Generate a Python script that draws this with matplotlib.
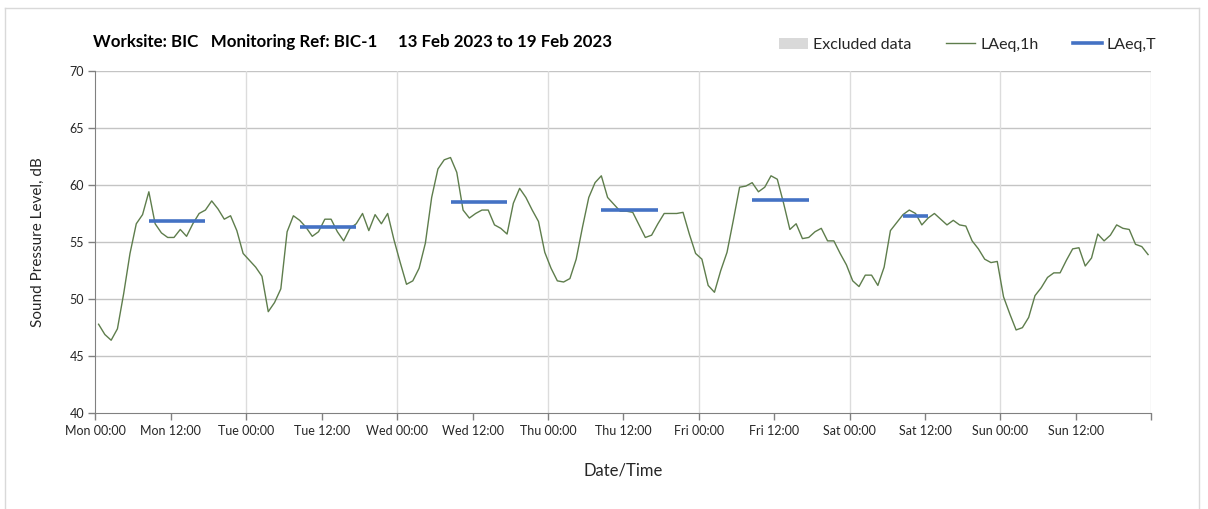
import numpy as np
import matplotlib
matplotlib.use('Agg')
import matplotlib.pyplot as plt
from matplotlib.patches import Patch
from matplotlib.lines import Line2D

plt.rcParams['font.family'] = ['Lato', 'DejaVu Sans']

# hourly LAeq,1h values (dB), Mon 00:00 .. Sun 23:00
mon = [47.8, 46.9, 46.4, 47.4, 50.5, 54.0, 56.6, 57.4, 59.4, 56.6, 55.8, 55.4,
       55.4, 56.1, 55.5, 56.6, 57.5, 57.8, 58.6, 57.9, 57.0, 57.3, 56.0, 54.0]
tue = [53.4, 52.8, 52.0, 48.9, 49.7, 50.9, 55.9, 57.3, 56.9, 56.3, 55.5, 55.9,
       57.0, 57.0, 55.9, 55.1, 56.2, 56.6, 57.5, 56.0, 57.4, 56.6, 57.5, 55.2]
wed = [53.2, 51.3, 51.6, 52.7, 54.9, 58.9, 61.4, 62.2, 62.4, 61.1, 57.8, 57.1,
       57.5, 57.8, 57.8, 56.5, 56.2, 55.7, 58.4, 59.7, 58.9, 57.8, 56.8, 54.1]
thu = [52.7, 51.6, 51.5, 51.8, 53.5, 56.3, 58.9, 60.2, 60.8, 58.9, 58.3, 57.7,
       57.7, 57.6, 56.5, 55.4, 55.6, 56.6, 57.5, 57.5, 57.5, 57.6, 55.7, 54.0]
fri = [53.5, 51.2, 50.6, 52.5, 54.1, 56.9, 59.8, 59.9, 60.2, 59.4, 59.8, 60.8,
       60.5, 58.4, 56.1, 56.6, 55.3, 55.4, 55.9, 56.2, 55.1, 55.1, 54.0, 53.0]
sat = [51.6, 51.1, 52.1, 52.1, 51.2, 52.8, 56.0, 56.7, 57.4, 57.8, 57.5, 56.5,
       57.1, 57.5, 57.0, 56.5, 56.9, 56.5, 56.4, 55.1, 54.4, 53.5, 53.2, 53.3]
sun = [50.2, 48.7, 47.3, 47.5, 48.4, 50.3, 51.0, 51.9, 52.3, 52.3, 53.4, 54.4,
       54.5, 52.9, 53.6, 55.7, 55.1, 55.6, 56.5, 56.2, 56.1, 54.8, 54.6, 53.9]
laeq_1h = mon + tue + wed + thu + fri + sat + sun

# LAeq,T over working periods (start hour, end hour, level)
period_start = [8, 32, 56, 80, 104, 128]
period_end = [18, 42, 66, 90, 114, 133]
laeq_t = [56.8, 56.3, 58.5, 57.8, 58.7, 57.3]

excluded = []  # (start hour, end hour) - none this week

days = ["Mon", "Tue", "Wed", "Thu", "Fri", "Sat", "Sun"]
tick_labels = []
for d in days:
    tick_labels += [d + " 00:00", d + " 12:00"]

green = "#5e7d4c"
blue = "#4472c4"

fig = plt.figure(figsize=(12.08, 5.09), dpi=100)
ax = fig.add_axes([0.079, 0.188, 0.874, 0.673])

for s, e in excluded:
    ax.axvspan(s, e, color="#d9d9d9", zorder=0)

hours = np.arange(len(laeq_1h)) + 0.5
ax.plot(hours, laeq_1h, color=green, lw=1.0, zorder=3)
for s, e, v in zip(period_start, period_end, laeq_t):
    ax.plot([s + 0.5, e - 0.5], [v, v], color=blue, lw=2.6, zorder=4,
            solid_capstyle="butt")

ax.set_xlim(0, 168)
ax.set_ylim(40, 70)
ax.set_yticks(np.arange(40, 71, 5))
ax.set_xticks(np.arange(0, 169, 12))
ax.set_xticklabels(tick_labels + [""])
ax.tick_params(axis="both", labelsize=9, colors="#808080", labelcolor="#262626",
               length=5, width=1)
ax.tick_params(axis="y", length=5, pad=3)

for y in range(45, 71, 5):
    ax.axhline(y, color="#c4c4c4", lw=1, zorder=1)
for x in range(24, 169, 24):
    ax.axvline(x, color="#dcdcdc", lw=1, zorder=1)

for side in ["top", "right"]:
    ax.spines[side].set_visible(False)
for side in ["left", "bottom"]:
    ax.spines[side].set_color("#808080")

ax.set_ylabel("Sound Pressure Level, dB", fontsize=11, color="#262626", labelpad=18)
ax.set_xlabel("Date/Time", fontsize=12, color="#262626", labelpad=18)

fig.text(93 / 1208, 1 - 42 / 509,
         "Worksite: BIC   Monitoring Ref: BIC-1     13 Feb 2023 to 19 Feb 2023",
         fontsize=12.2, fontweight="bold", va="center", ha="left", color="#000000")

handles = [Patch(facecolor="#d9d9d9", edgecolor="none"),
           Line2D([], [], color=green, lw=1.0),
           Line2D([], [], color=blue, lw=2.6)]
fig.legend(handles, ["Excluded data", "LAeq,1h", "LAeq,T"], ncol=3,
           loc="center", bbox_to_anchor=(968 / 1208, 1 - 45 / 509),
           frameon=False, fontsize=11.5, handlelength=1.8, handletextpad=0.3,
           columnspacing=2.2, labelcolor="#262626")

# thin frame round the chart area
fr = "#d9d9d9"
fig.add_artist(Line2D([5 / 1208, 5 / 1208], [0, 1 - 8 / 509], color=fr, lw=1,
                      transform=fig.transFigure))
fig.add_artist(Line2D([5 / 1208, 1199 / 1208], [1 - 8 / 509, 1 - 8 / 509], color=fr,
                      lw=1, transform=fig.transFigure))
fig.add_artist(Line2D([1199 / 1208, 1199 / 1208], [0, 1 - 8 / 509], color=fr, lw=1,
                      transform=fig.transFigure))

fig.savefig("out.png", dpi=100)
